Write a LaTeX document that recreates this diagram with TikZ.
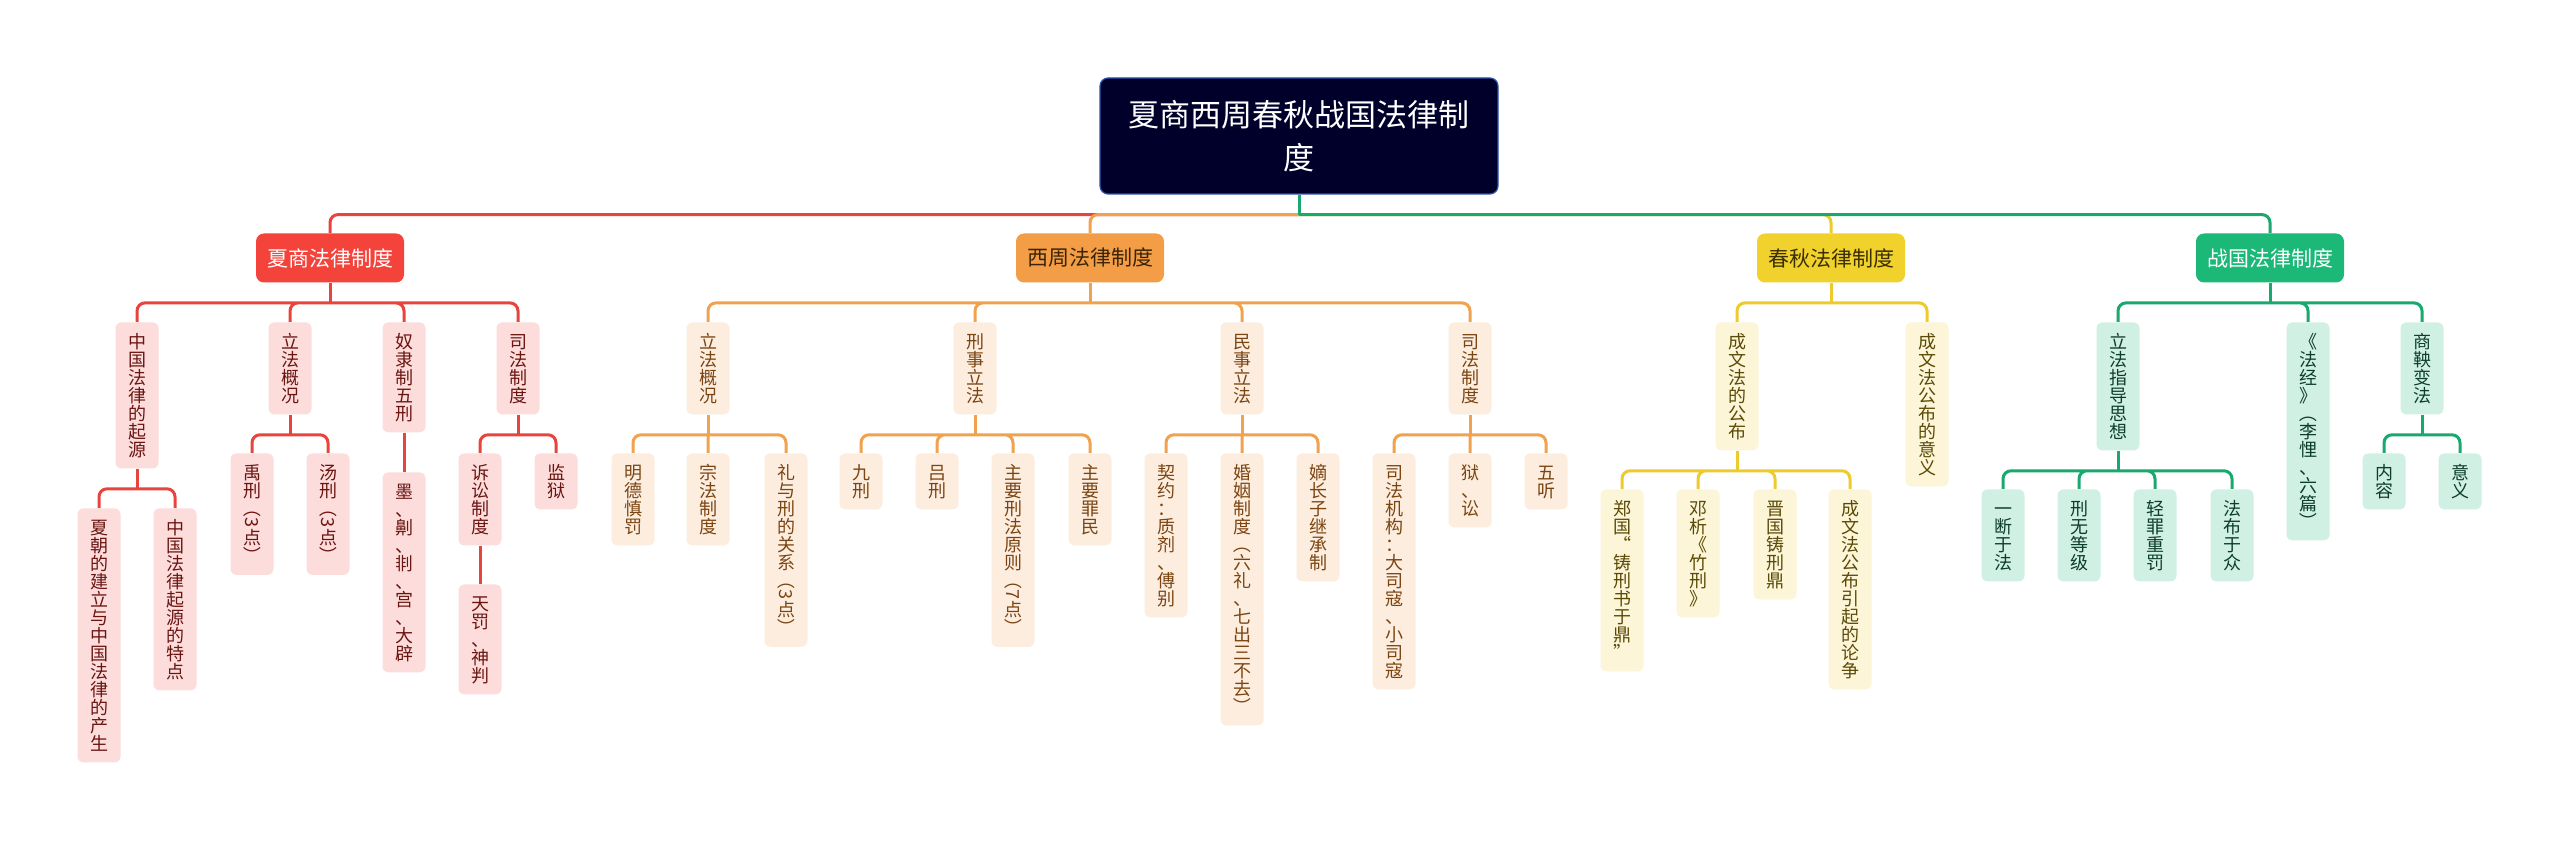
\documentclass[tikz,border=0pt]{standalone}
\usepackage{fontspec}
\setmainfont{Noto Sans CJK SC}
\usepackage{graphicx}
\usepackage{xcolor}

\definecolor{rootfill}{HTML}{00002B}
\definecolor{rootdraw}{HTML}{2C55B0}
\definecolor{xsmain}{HTML}{F4433B}
\definecolor{xsline}{HTML}{E8443E}
\definecolor{xssub}{HTML}{FCDDDC}
\definecolor{xstext}{HTML}{6B1511}
\definecolor{xshead}{HTML}{FFFFFF}
\definecolor{xzmain}{HTML}{F39D46}
\definecolor{xzline}{HTML}{F0A24E}
\definecolor{xzsub}{HTML}{FDEDDF}
\definecolor{xztext}{HTML}{7B4512}
\definecolor{xzhead}{HTML}{3B2405}
\definecolor{cqmain}{HTML}{F1D12B}
\definecolor{cqline}{HTML}{EDCB2C}
\definecolor{cqsub}{HTML}{FCF5D8}
\definecolor{cqtext}{HTML}{5B4A06}
\definecolor{cqhead}{HTML}{3A2F00}
\definecolor{zgmain}{HTML}{1BB877}
\definecolor{zgline}{HTML}{19A86E}
\definecolor{zgsub}{HTML}{D0F0E3}
\definecolor{zgtext}{HTML}{0D3D2B}
\definecolor{zghead}{HTML}{FFFFFF}

% vertical text: one character per line, brackets and digits turned
\ExplSyntaxOn
\cs_new:Npn \vt_cell:n #1
  {
    \bool_if:nTF
      {
        \int_compare_p:nNn { `#1 } < { 128 } ||
        \int_compare_p:nNn { `#1 } = { 65288 } ||
        \int_compare_p:nNn { `#1 } = { 65289 }
      }
      { \hbox_to_wd:nn { 1em } { \hfil \rotatebox[origin=c]{-90}{#1} \hfil } }
      { \hbox_to_wd:nn { 1em } { \hfil \rule[-0.12em]{0pt}{1em} \smash{#1} \hfil } }
  }
\NewDocumentCommand \vtext { m }
  { \vbox:n { \offinterlineskip \tl_map_function:nN {#1} \vt_cell:n } }
\ExplSyntaxOff

\begin{document}
\begin{tikzpicture}[x=0.5pt, y=-0.5pt,
    rootbox/.style={fill=rootfill, draw=rootdraw, line width=0.6pt, rounded corners=4pt,
      text=white, minimum width=199pt, minimum height=58pt, align=center,
      font=\fontsize{15.5}{21.5}\selectfont},
    headbox/.style={fill=#1main, text=#1head, rounded corners=4pt, inner sep=0pt,
      minimum width=74pt, minimum height=24.5pt, font=\fontsize{10.5}{12}\selectfont},
    topic/.style={fill=#1sub, text=#1text, rounded corners=3pt, anchor=north,
      inner xsep=6.25pt, inner ysep=5pt, font=\fontsize{9}{9}\selectfont},
    link/.style={draw=#1, line width=1.5pt, rounded corners=4pt}]
    \useasboundingbox (0,0) rectangle (2560,844);
    \fill[white] (0,0) rectangle (2560,844);

    % root and the four periods
    \node[rootbox] (root) at (1299,136) {夏商西周春秋战国法律制\\度};
    \node[headbox=xs] (xs) at (330,258) {夏商法律制度};
    \node[headbox=xz] (xz) at (1090,258) {西周法律制度};
    \node[headbox=cq] (cq) at (1831,258) {春秋法律制度};
    \node[headbox=zg] (zg) at (2270,258) {战国法律制度};

    % Xia and Shang
    \node[topic=xs] (xsA) at (137,322) {\vtext{中国法律的起源}};
    \node[topic=xs] (xsB) at (290,322) {\vtext{立法概况}};
    \node[topic=xs] (xsC) at (404,322) {\vtext{奴隶制五刑}};
    \node[topic=xs] (xsD) at (518,322) {\vtext{司法制度}};
    \node[topic=xs] (xsA1) at (99,508) {\vtext{夏朝的建立与中国法律的产生}};
    \node[topic=xs] (xsA2) at (175,508) {\vtext{中国法律起源的特点}};
    \node[topic=xs] (xsB1) at (252,453) {\vtext{禹刑（3点）}};
    \node[topic=xs] (xsB2) at (328,453) {\vtext{汤刑（3点）}};
    \node[topic=xs] (xsC1) at (404,472) {\vtext{墨、劓、剕、宫、大辟}};
    \node[topic=xs] (xsD1) at (480,453) {\vtext{诉讼制度}};
    \node[topic=xs] (xsD2) at (556,453) {\vtext{监狱}};
    \node[topic=xs] (xsD11) at (480,584) {\vtext{天罚、神判}};

    % Western Zhou
    \node[topic=xz] (xzA) at (708,322) {\vtext{立法概况}};
    \node[topic=xz] (xzB) at (975,322) {\vtext{刑事立法}};
    \node[topic=xz] (xzC) at (1242,322) {\vtext{民事立法}};
    \node[topic=xz] (xzD) at (1470,322) {\vtext{司法制度}};
    \node[topic=xz] (xzA1) at (633,453) {\vtext{明德慎罚}};
    \node[topic=xz] (xzA2) at (708,453) {\vtext{宗法制度}};
    \node[topic=xz] (xzA3) at (786,453) {\vtext{礼与刑的关系（3点）}};
    \node[topic=xz] (xzB1) at (861,453) {\vtext{九刑}};
    \node[topic=xz] (xzB2) at (937,453) {\vtext{吕刑}};
    \node[topic=xz] (xzB3) at (1013,453) {\vtext{主要刑法原则（7点）}};
    \node[topic=xz] (xzB4) at (1090,453) {\vtext{主要罪民}};
    \node[topic=xz] (xzC1) at (1166,453) {\vtext{契约：质剂、傅别}};
    \node[topic=xz] (xzC2) at (1242,453) {\vtext{婚姻制度（六礼、七出三不去）}};
    \node[topic=xz] (xzC3) at (1318,453) {\vtext{嫡长子继承制}};
    \node[topic=xz] (xzD1) at (1394,453) {\vtext{司法机构：大司寇、小司寇}};
    \node[topic=xz] (xzD2) at (1470,453) {\vtext{狱、讼}};
    \node[topic=xz] (xzD3) at (1546,453) {\vtext{五听}};

    % Spring and Autumn
    \node[topic=cq] (cqA) at (1737,322) {\vtext{成文法的公布}};
    \node[topic=cq] (cqB) at (1927,322) {\vtext{成文法公布的意义}};
    \node[topic=cq] (cqA1) at (1622,489) {\vtext{郑国“铸刑书于鼎”}};
    \node[topic=cq] (cqA2) at (1698,489) {\vtext{邓析《竹刑》}};
    \node[topic=cq] (cqA3) at (1775,489) {\vtext{晋国铸刑鼎}};
    \node[topic=cq] (cqA4) at (1850,489) {\vtext{成文法公布引起的论争}};

    % Warring States
    \node[topic=zg] (zgA) at (2118,322) {\vtext{立法指导思想}};
    \node[topic=zg] (zgB) at (2308,322) {\vtext{《法经》（李悝、六篇）}};
    \node[topic=zg] (zgC) at (2422,322) {\vtext{商鞅变法}};
    \node[topic=zg] (zgA1) at (2003,489) {\vtext{一断于法}};
    \node[topic=zg] (zgA2) at (2079,489) {\vtext{刑无等级}};
    \node[topic=zg] (zgA3) at (2155,489) {\vtext{轻罪重罚}};
    \node[topic=zg] (zgA4) at (2232,489) {\vtext{法布于众}};
    \node[topic=zg] (zgC1) at (2384,453) {\vtext{内容}};
    \node[topic=zg] (zgC2) at (2460,453) {\vtext{意义}};

    % connectors from the root
    \path (root.south) ++(0,20) coordinate (rb);
    \draw[link=xsline] (rb) -| (xs.north);
    \draw[link=xzline] (rb) -| (xz.north);
    \draw[link=cqline] (rb) -| (cq.north);
    \draw[link=zgline] (rb) -| (zg.north);
    \draw[link=zgline] (root.south) -- (rb);

    % connectors, Xia and Shang
    \draw[link=xsline] (xs.south) -- ++(0,20) coordinate (xsb);
    \draw[link=xsline] (xsb) -| (xsA.north) (xsb) -| (xsB.north)
      (xsb) -| (xsC.north) (xsb) -| (xsD.north);
    \draw[link=xsline] (xsA.south) -- ++(0,20) coordinate (xsAb);
    \draw[link=xsline] (xsAb) -| (xsA1.north) (xsAb) -| (xsA2.north);
    \draw[link=xsline] (xsB.south) -- ++(0,20) coordinate (xsBb);
    \draw[link=xsline] (xsBb) -| (xsB1.north) (xsBb) -| (xsB2.north);
    \draw[link=xsline] (xsC.south) -- (xsC1.north);
    \draw[link=xsline] (xsD.south) -- ++(0,20) coordinate (xsDb);
    \draw[link=xsline] (xsDb) -| (xsD1.north) (xsDb) -| (xsD2.north);
    \draw[link=xsline] (xsD1.south) -- (xsD11.north);

    % connectors, Western Zhou
    \draw[link=xzline] (xz.south) -- ++(0,20) coordinate (xzb);
    \draw[link=xzline] (xzb) -| (xzA.north) (xzb) -| (xzB.north)
      (xzb) -| (xzC.north) (xzb) -| (xzD.north);
    \draw[link=xzline] (xzA.south) -- ++(0,20) coordinate (xzAb);
    \draw[link=xzline] (xzAb) -| (xzA1.north) (xzAb) -- (xzA2.north) (xzAb) -| (xzA3.north);
    \draw[link=xzline] (xzB.south) -- ++(0,20) coordinate (xzBb);
    \draw[link=xzline] (xzBb) -| (xzB1.north) (xzBb) -| (xzB2.north)
      (xzBb) -| (xzB3.north) (xzBb) -| (xzB4.north);
    \draw[link=xzline] (xzC.south) -- ++(0,20) coordinate (xzCb);
    \draw[link=xzline] (xzCb) -| (xzC1.north) (xzCb) -- (xzC2.north) (xzCb) -| (xzC3.north);
    \draw[link=xzline] (xzD.south) -- ++(0,20) coordinate (xzDb);
    \draw[link=xzline] (xzDb) -| (xzD1.north) (xzDb) -- (xzD2.north) (xzDb) -| (xzD3.north);

    % connectors, Spring and Autumn
    \draw[link=cqline] (cq.south) -- ++(0,20) coordinate (cqb);
    \draw[link=cqline] (cqb) -| (cqA.north) (cqb) -| (cqB.north);
    \draw[link=cqline] (cqA.south) -- ++(0,20) coordinate (cqAb);
    \draw[link=cqline] (cqAb) -| (cqA1.north) (cqAb) -| (cqA2.north)
      (cqAb) -| (cqA3.north) (cqAb) -| (cqA4.north);

    % connectors, Warring States
    \draw[link=zgline] (zg.south) -- ++(0,20) coordinate (zgb);
    \draw[link=zgline] (zgb) -| (zgA.north) (zgb) -| (zgB.north) (zgb) -| (zgC.north);
    \draw[link=zgline] (zgA.south) -- ++(0,20) coordinate (zgAb);
    \draw[link=zgline] (zgAb) -| (zgA1.north) (zgAb) -| (zgA2.north)
      (zgAb) -| (zgA3.north) (zgAb) -| (zgA4.north);
    \draw[link=zgline] (zgC.south) -- ++(0,20) coordinate (zgCb);
    \draw[link=zgline] (zgCb) -| (zgC1.north) (zgCb) -| (zgC2.north);
\end{tikzpicture}
\end{document}
